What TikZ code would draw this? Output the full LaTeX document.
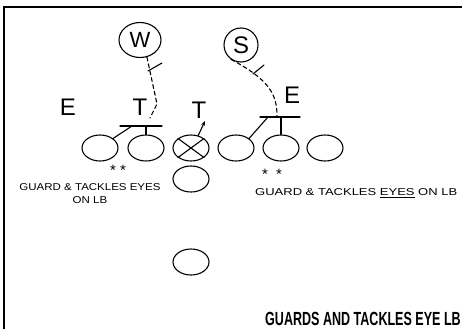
\documentclass[tikz,border=0pt]{standalone}
\usepackage{fontspec}
\setmainfont{Liberation Sans}
\usetikzlibrary{arrows.meta,shapes.geometric}
\begin{document}
\begin{tikzpicture}[x=1pt,y=-1pt,
  stroke/.style={line width=1.1pt,line cap=round},
  oval/.style={draw,ellipse,line width=1.1pt,minimum width=36pt,minimum height=26pt,inner sep=0pt},
  lbl/.style={font=\fontsize{24}{24}\selectfont,inner sep=0pt},
  note/.style={font=\fontsize{10}{13}\selectfont,inner sep=0pt},
  dsh/.style={stroke,dash pattern=on 4pt off 3pt}]
\useasboundingbox (0,0) rectangle (462,329);
\fill[white] (0,0) rectangle (462,329);
\draw[line width=1.5pt] (4,329) -- (4,7) -- (462,7);
% linebackers
\node[draw,ellipse,line width=1.1pt,minimum width=42pt,minimum height=35pt,inner sep=0pt,font=\fontsize{22}{22}\selectfont] (w) at (140,40) {W};
\node[draw,circle,line width=1.1pt,minimum size=34pt,inner sep=0pt,font=\fontsize{24}{24}\selectfont] (s) at (241,45) {S};
% defensive line letters
\node[lbl] (eL) at (68,107) {E};
\node[lbl] (tL) at (140,107) {T};
\node[lbl] (tM) at (199,110) {T};
\node[lbl] (eR) at (292,95) {E};
% offensive line
\node[oval] (o1) at (100,148) {};
\node[oval] (o2) at (146,148) {};
\node[oval] (o3) at (191,148) {};
\node[oval] (o4) at (236,148) {};
\node[oval] (o5) at (281,148) {};
\node[oval] (o6) at (325,148) {};
\node[oval] (qb) at (191,179) {};
\node[oval] (rb) at (191,262) {};
\draw[stroke] (o3.north west) -- (o3.south east);
\draw[stroke] (o3.north east) -- (o3.south west);
% blocks, left
\coordinate (bla) at (120,126);
\coordinate (blb) at (162,126);
\coordinate (bld) at (132,126);
\draw[stroke] (bla) -- (blb);
\draw[stroke] (o2.north) -- (o2.north |- bla);
\draw[stroke] (o1.north east) -- (bld);
% center
\coordinate (ca) at (205,121);
\draw[stroke,-{Stealth[length=5pt]}] (o3.60) -- (ca);
% blocks, right
\coordinate (bra) at (260,117);
\coordinate (brb) at (300,117);
\coordinate (brd) at (268,117);
\draw[stroke] (bra) -- (brb);
\draw[stroke] (o5.north) -- (o5.north |- bra);
\draw[stroke] (o4.north east) -- (brd);
% W path
\coordinate (wt1) at (148,71);
\coordinate (wt2) at (162,63);
\coordinate (wmid) at (157,104);
\coordinate (wend) at (150,118);
\draw[stroke] (wt1) -- (wt2);
\draw[dsh] (w.-68) -- (wmid) -- (wend);
% S path
\coordinate (st1) at (253,74);
\coordinate (st2) at (264,65);
\coordinate (send) at (277,116);
\draw[stroke] (st1) -- (st2);
\draw[dsh] (s.-125) .. controls (270,80) and (277,95) .. (send);
% notes
\node[note] (ast1) at (118,170) {\fontsize{15}{15}\selectfont * *};
\node[note] (ast2) at (272,174) {\fontsize{15}{15}\selectfont *\ \ *};
\node[note,align=center] (n1) at (90,194) {\scalebox{1.15}[1]{GUARD \& TACKLES EYES}\\\scalebox{1.15}[1]{ON LB}};
\node[note,anchor=west] (n2) at (255,193) {\scalebox{1.3}[1]{GUARD \& TACKLES \underline{EYES} ON LB}};
\node[anchor=west,inner sep=0pt,font=\bfseries\fontsize{19}{19}\selectfont] (title) at (265,319) {\scalebox{0.66}[1]{GUARDS AND TACKLES EYE LB}};
\end{tikzpicture}
\end{document}
